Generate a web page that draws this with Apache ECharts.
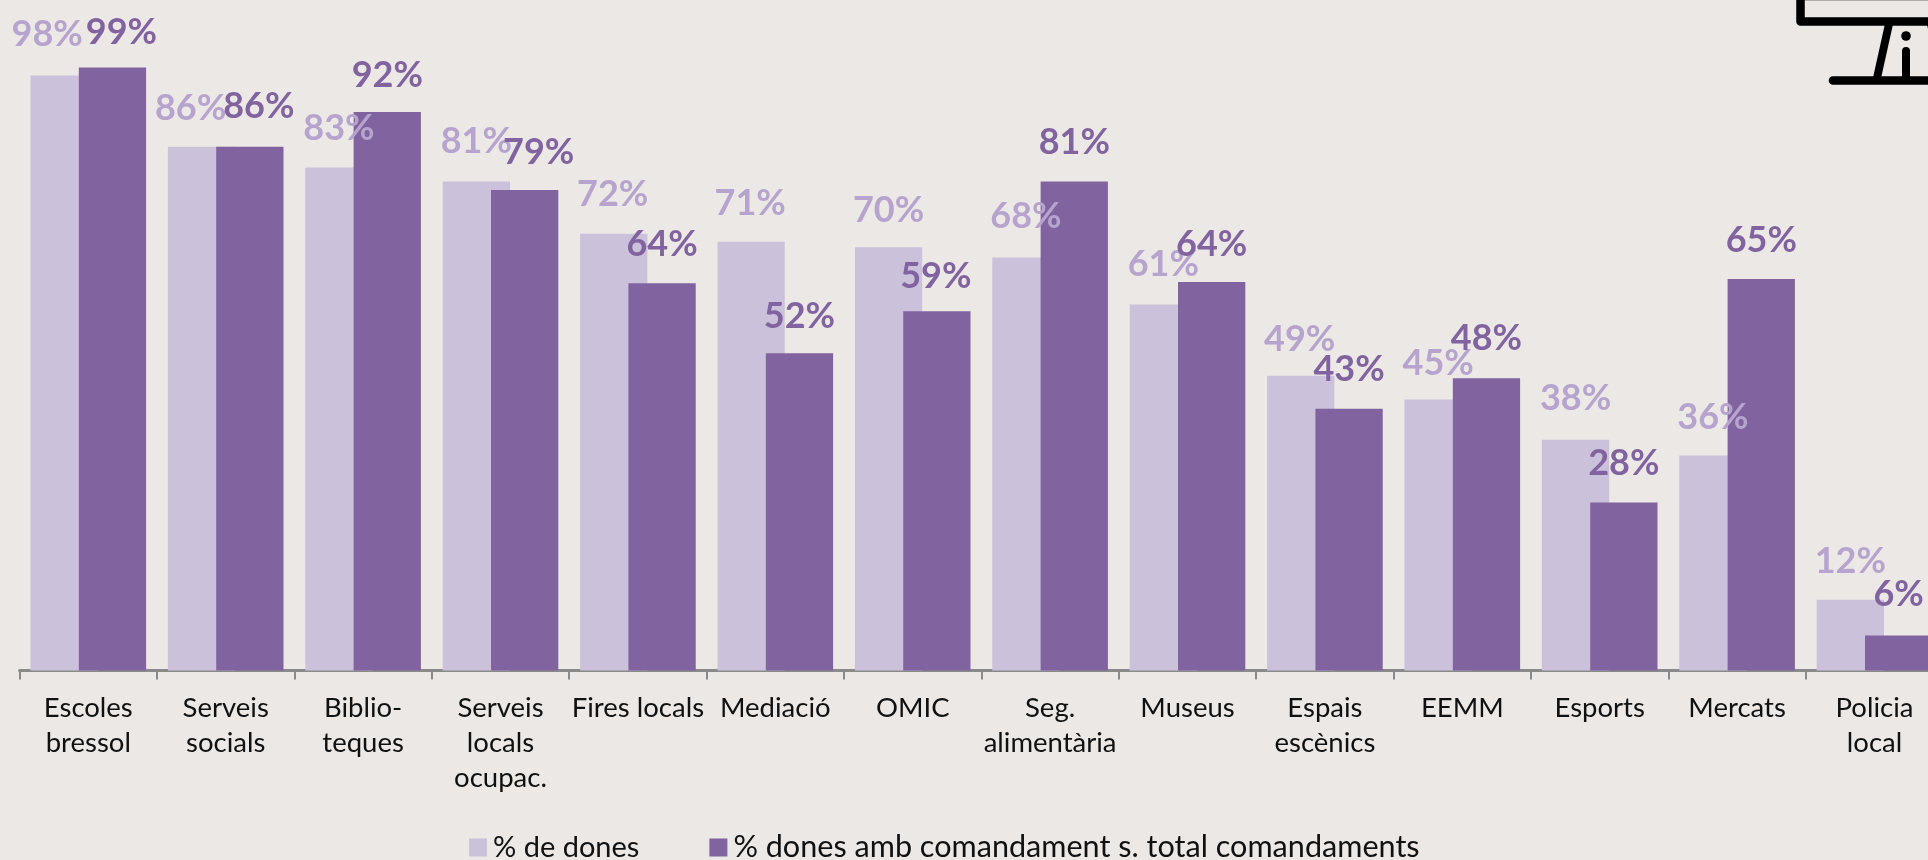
<!DOCTYPE html>
<html><head><meta charset="utf-8">
<style>html,body{margin:0;padding:0;background:#ebe8e5;overflow:hidden}#c{width:1928px;height:860px}</style>
<script src="https://cdn.jsdelivr.net/npm/echarts@6/dist/echarts.min.js"></script>
</head><body><div id="c"></div>
<script>
const categories = ["Escoles\nbressol","Serveis\nsocials","Biblio-\nteques","Serveis\nlocals\nocupac.","Fires locals","Mediació","OMIC","Seg.\nalimentària","Museus","Espais\nescènics","EEMM","Esports","Mercats","Policia\nlocal"];
const seriesNames = ["% de dones","% dones amb comandament s. total comandaments"];
const womenShare = [97.7,86,82.6,80.3,71.7,70.4,69.5,67.8,60.1,48.4,44.5,37.9,35.3,11.6];
const womenInCommand = [99,86,91.7,78.9,63.6,52.1,59,80.3,63.8,43,48,27.6,64.3,5.75];
const womenShareLabels = ["98%","86%","83%","81%","72%","71%","70%","68%","61%","49%","45%","38%","36%","12%"];
const womenInCommandLabels = ["99%","86%","92%","79%","64%","52%","59%","81%","64%","43%","48%","28%","65%","6%"];

// label placement only (px relative to each bar top, not data)
const nudgeLight = [[-17,-23],[-11,-20],[0,-21],[0,-22],[-1,-21],[-1,-20],[0,-19],[0,-23],[0,-22],[-1,-18],[0,-18],[0,-23],[0,-20],[0,-20]];
const nudgeDark = [[9,-17],[9,-22],[0,-19],[14,-20],[0,-21],[0,-19],[-1,-17],[0,-21],[0,-20],[0,-21],[0,-22],[0,-21],[0,-21],[0,-23]];

const FONT = 'Lato';
const withLabels = (vals, texts, nudge) => vals.map((v,i)=>({value:v,label:{offset:nudge[i],formatter:texts[i]}}));
const chart = echarts.init(document.getElementById('c'),null,{renderer:'canvas'});
const K = '#000';
chart.setOption({
  animation:false,
  backgroundColor:'#ebe8e5',
  textStyle:{fontFamily:FONT},
  grid:{left:19.6,top:61.5,width:1923.6,height:609,containLabel:false,outerBoundsMode:'none'},
  legend:{left:469,top:832,itemWidth:18,itemHeight:18,itemGap:70,icon:'rect',padding:0,
    textStyle:{fontFamily:FONT,fontSize:29,color:'#111',padding:[4,0,0,1]},
    data:[{name:seriesNames[0],textStyle:{fontSize:29}},{name:seriesNames[1],textStyle:{fontSize:30.6}}]},
  xAxis:{type:'category',data:categories,
    axisLine:{lineStyle:{color:'#8a8a8a',width:3}},
    axisTick:{show:true,alignWithLabel:false,length:9,lineStyle:{color:'#8a8a8a',width:2}},
    axisLabel:{interval:0,margin:20,fontFamily:FONT,fontSize:27.5,lineHeight:35,color:'#111',verticalAlign:'top'}},
  yAxis:{type:'value',min:0,max:100,show:false,splitLine:{show:false}},
  series:[
    {name:seriesNames[0],type:'bar',barWidth:67.3,barGap:'-28.2%',
     itemStyle:{color:'#cbc1db'},
     label:{show:true,position:'top',distance:0,fontFamily:FONT,fontWeight:'bold',fontSize:36,color:'#b6a4ce'},
     data:withLabels(womenShare,womenShareLabels,nudgeLight)},
    {name:seriesNames[1],type:'bar',barWidth:67.3,
     itemStyle:{color:'#80639f'},
     label:{show:true,position:'top',distance:0,fontFamily:FONT,fontWeight:'bold',fontSize:36,color:'#80639f'},
     data:withLabels(womenInCommand,womenInCommandLabels,nudgeDark)}
  ],
  graphic:{elements:[
    {type:'polyline',z:10,shape:{points:[[1940,-4],[1800.5,-4],[1800.5,21.5],[1940,21.5]]},style:{fill:null,stroke:K,lineWidth:8.5,lineJoin:'round'}},
    {type:'line',z:10,shape:{x1:1889,y1:24,x2:1877,y2:78},style:{stroke:K,lineWidth:8}},
    {type:'line',z:10,shape:{x1:1931,y1:24,x2:1943,y2:78},style:{stroke:K,lineWidth:8}},
    {type:'line',z:10,shape:{x1:1833,y1:80.5,x2:1940,y2:80.5},style:{stroke:K,lineWidth:8.5,lineCap:'round'}},
    {type:'circle',z:10,shape:{cx:1906,cy:36,r:4.8},style:{fill:K}},
    {type:'line',z:10,shape:{x1:1906,y1:51,x2:1906,y2:80},style:{stroke:K,lineWidth:8,lineCap:'round'}}
  ]}
});
</script></body></html>
